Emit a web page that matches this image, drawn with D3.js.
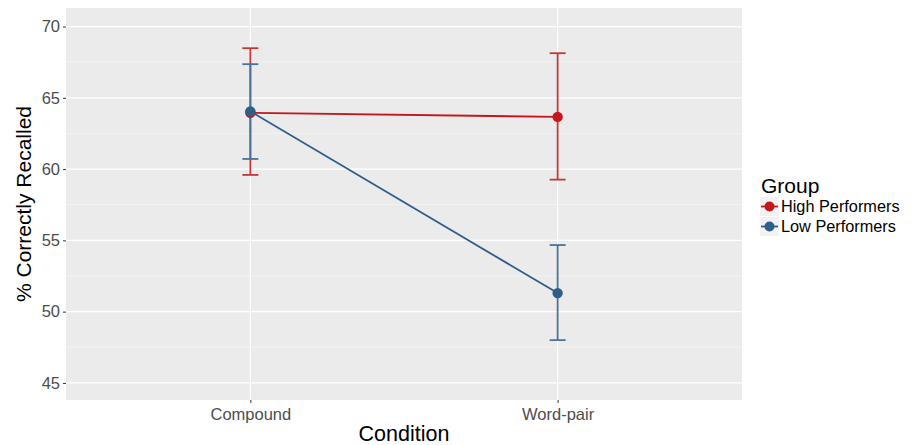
<!DOCTYPE html>
<html>
<head>
<meta charset="utf-8">
<script src="https://cdn.jsdelivr.net/npm/d3@7"></script>
<style>
  body { margin: 0; background: #fff; }
  text { font-family: "Liberation Sans", Arial, sans-serif; }
</style>
</head>
<body>
<svg id="chart"></svg>
<script>
// data
const conditions = ["Compound", "Word-pair"];
const groups = ["High Performers", "Low Performers"];
const highMean = [63.95, 63.66];
const highLower = [59.59, 59.26];
const highUpper = [68.48, 68.13];
const lowMean = [64.05, 51.3];
const lowLower = [60.71, 48.0];
const lowUpper = [67.36, 54.67];
const yTicks = [45, 50, 55, 60, 65, 70];

const colors = { "High Performers": "#c4161c", "Low Performers": "#2e5e8a" };
const barColors = { "High Performers": "#c23a3a", "Low Performers": "#4b739a" };

const W = 912, H = 445;
const margin = { top: 8, right: 170, bottom: 45, left: 66 };
const width = W - margin.left - margin.right;
const height = H - margin.top - margin.bottom;

const svg = d3.select('#chart')
  .attr('width', W)
  .attr('height', H);

const g = svg.append('g')
  .attr('transform', `translate(${margin.left}, ${margin.top})`);

// discrete x, ggplot-like expansion
const xScale = d3.scalePoint()
  .domain(conditions)
  .range([0, width])
  .padding(0.6);

const yScale = d3.scaleLinear()
  .domain([43.8, 71.3])
  .range([height, 0]);

// panel background
g.append('rect')
  .attr('width', width)
  .attr('height', height)
  .attr('fill', '#ebebeb');

// minor grid
const minor = yTicks.slice(0, -1).map(v => v + 2.5);
g.selectAll('.minor')
  .data(minor)
  .enter()
  .append('line')
  .attr('x1', 0).attr('x2', width)
  .attr('y1', d => yScale(d)).attr('y2', d => yScale(d))
  .attr('stroke', '#f5f5f5')
  .attr('stroke-width', 0.8);

// major grid
g.selectAll('.major')
  .data(yTicks)
  .enter()
  .append('line')
  .attr('x1', 0).attr('x2', width)
  .attr('y1', d => yScale(d)).attr('y2', d => yScale(d))
  .attr('stroke', '#fff')
  .attr('stroke-width', 1.3);

g.selectAll('.vgrid')
  .data(conditions)
  .enter()
  .append('line')
  .attr('x1', d => xScale(d)).attr('x2', d => xScale(d))
  .attr('y1', 0).attr('y2', height)
  .attr('stroke', '#fff')
  .attr('stroke-width', 1.3);

// axes
const yAxis = d3.axisLeft(yScale).tickValues(yTicks).tickSize(3).tickPadding(3);
const xAxis = d3.axisBottom(xScale).tickSize(3).tickPadding(5);

const ya = g.append('g').call(yAxis);
ya.select('.domain').remove();
ya.selectAll('line').attr('stroke', '#333');
ya.selectAll('text').attr('fill', '#4d4d4d').style('font-size', '16.5px');

const xa = g.append('g')
  .attr('transform', `translate(0, ${height})`)
  .call(xAxis);
xa.select('.domain').remove();
xa.selectAll('line').attr('stroke', '#333');
xa.selectAll('text').attr('fill', '#4d4d4d').style('font-size', '16.5px');

// axis titles
svg.append('text')
  .attr('x', margin.left + width / 2)
  .attr('y', 441)
  .attr('text-anchor', 'middle')
  .style('font-size', '21.5px')
  .text('Condition');

svg.append('text')
  .attr('transform', `translate(31, ${margin.top + height / 2}) rotate(-90)`)
  .attr('text-anchor', 'middle')
  .style('font-size', '21px')
  .text('% Correctly Recalled');

const series = [
  { name: groups[0], mean: highMean, lo: highLower, hi: highUpper },
  { name: groups[1], mean: lowMean, lo: lowLower, hi: lowUpper }
];

const line = d3.line()
  .x((d, i) => xScale(conditions[i]))
  .y(d => yScale(d));

series.forEach(s => {
  const sg = g.append('g');
  // error bars
  conditions.forEach((c, i) => {
    const x = xScale(c);
    sg.append('line')
      .attr('x1', x).attr('x2', x)
      .attr('y1', yScale(s.lo[i])).attr('y2', yScale(s.hi[i]))
      .attr('stroke', barColors[s.name]).attr('stroke-width', 1.8);
    [s.lo[i], s.hi[i]].forEach(v => {
      sg.append('line')
        .attr('x1', x - 8).attr('x2', x + 8)
        .attr('y1', yScale(v)).attr('y2', yScale(v))
        .attr('stroke', barColors[s.name]).attr('stroke-width', 1.8);
    });
  });
});

series.forEach(s => {
  g.append('path')
    .datum(s.mean)
    .attr('d', line)
    .attr('fill', 'none')
    .attr('stroke', colors[s.name])
    .attr('stroke-width', 1.8);
});

series.forEach(s => {
  g.selectAll(null)
    .data(s.mean)
    .enter()
    .append('circle')
    .attr('cx', (d, i) => xScale(conditions[i]))
    .attr('cy', d => yScale(d))
    .attr('r', 5.2)
    .attr('fill', colors[s.name]);
});

// legend
const legend = svg.append('g').attr('transform', 'translate(760, 0)');
legend.append('text')
  .attr('x', 1).attr('y', 193)
  .style('font-size', '21px')
  .text('Group');

const items = legend.selectAll('.item')
  .data(groups)
  .enter()
  .append('g')
  .attr('transform', (d, i) => `translate(0, ${197 + i * 20})`);

items.append('rect')
  .attr('width', 19).attr('height', 19)
  .attr('fill', '#f2f2f2');
items.append('line')
  .attr('x1', 1).attr('x2', 18)
  .attr('y1', 9.5).attr('y2', 9.5)
  .attr('stroke', d => colors[d]).attr('stroke-width', 1.8);
items.append('circle')
  .attr('cx', 9.5).attr('cy', 9.5).attr('r', 5)
  .attr('fill', d => colors[d]);
items.append('text')
  .attr('x', 21).attr('y', 9.5)
  .attr('dy', '.35em')
  .style('font-size', '16.3px')
  .text(d => d);
</script>
</body>
</html>
